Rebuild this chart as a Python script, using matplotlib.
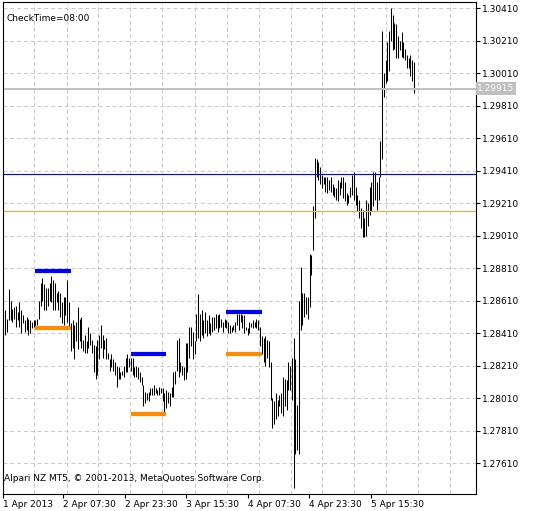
import matplotlib
matplotlib.use("Agg")
import matplotlib.pyplot as plt
import numpy as np

highs = [1.2855,1.2850,1.2868,1.2861,1.2856,1.2857,1.2858,1.2854,1.2860,1.2855,
1.2852,1.2849,1.2851,1.2850,1.2849,1.2848,1.2849,1.2849,1.2850,1.2861,
1.2872,1.2875,1.2871,1.2869,1.2869,1.2872,1.2876,1.2874,1.2872,1.2866,
1.2867,1.2866,1.2860,1.2863,1.2863,1.2874,1.2860,1.2847,1.2849,1.2846,
1.2848,1.2857,1.2850,1.2851,1.2837,1.2840,1.2836,1.2845,1.2841,1.2837,
1.2834,1.2833,1.2837,1.2840,1.2846,1.2840,1.2837,1.2838,1.2829,1.2825,
1.2828,1.2825,1.2823,1.2821,1.2820,1.2817,1.2818,1.2821,1.2826,1.2828,
1.2826,1.2826,1.2826,1.2820,1.2821,1.2820,1.2817,1.2814,1.2809,1.2805,
1.2804,1.2805,1.2807,1.2807,1.2809,1.2807,1.2806,1.2808,1.2807,1.2807,
1.2804,1.2806,1.2805,1.2804,1.2808,1.2817,1.2818,1.2837,1.2838,1.2823,
1.2821,1.2820,1.2835,1.2835,1.2845,1.2845,1.2842,1.2836,1.2853,1.2865,
1.2853,1.2855,1.2849,1.2854,1.2849,1.2852,1.2847,1.2851,1.2851,1.2853,
1.2852,1.2853,1.2850,1.2848,1.2850,1.2849,1.2848,1.2846,1.2845,1.2846,
1.2848,1.2853,1.2853,1.2853,1.2852,1.2852,1.2845,1.2844,1.2848,1.2847,
1.2849,1.2848,1.2850,1.2849,1.2845,1.2839,1.2838,1.2839,1.2837,1.2836,
1.2823,1.2801,1.2799,1.2804,1.2800,1.2803,1.2804,1.2814,1.2813,1.2812,
1.2823,1.2821,1.2826,1.2838,1.2825,1.2797,1.2861,1.2882,1.2866,1.2866,
1.2863,1.2863,1.2890,1.2889,1.2919,1.2949,1.2948,1.2946,1.2943,1.2938,
1.2937,1.2937,1.2937,1.2935,1.2937,1.2933,1.2931,1.2930,1.2935,1.2934,
1.2937,1.2937,1.2934,1.2927,1.2926,1.2931,1.2938,1.2940,1.2931,1.2926,
1.2923,1.2918,1.2917,1.2912,1.2923,1.2921,1.2931,1.2934,1.2940,1.2940,
1.2934,1.2937,1.2959,1.3027,1.3001,1.3009,1.3020,1.3027,1.3041,1.3037,
1.3032,1.3031,1.3024,1.3021,1.3026,1.3020,1.3016,1.3012,1.3010,1.3012,
1.3009,1.3008]
lows = [1.2840,1.2842,1.2849,1.2849,1.2848,1.2850,1.2845,1.2849,1.2845,1.2841,
1.2847,1.2842,1.2843,1.2840,1.2841,1.2844,1.2845,1.2844,1.2846,1.2850,
1.2858,1.2861,1.2855,1.2855,1.2858,1.2861,1.2860,1.2855,1.2855,1.2860,
1.2855,1.2851,1.2847,1.2846,1.2852,1.2848,1.2844,1.2830,1.2832,1.2825,
1.2836,1.2831,1.2836,1.2832,1.2830,1.2829,1.2829,1.2832,1.2834,1.2829,
1.2817,1.2813,1.2815,1.2825,1.2832,1.2826,1.2831,1.2825,1.2825,1.2818,
1.2820,1.2818,1.2815,1.2808,1.2813,1.2813,1.2815,1.2814,1.2817,1.2817,
1.2820,1.2818,1.2815,1.2814,1.2814,1.2813,1.2811,1.2809,1.2796,1.2798,
1.2800,1.2799,1.2803,1.2803,1.2803,1.2804,1.2803,1.2803,1.2804,1.2799,
1.2791,1.2795,1.2798,1.2796,1.2802,1.2802,1.2810,1.2818,1.2814,1.2817,
1.2815,1.2812,1.2813,1.2817,1.2826,1.2833,1.2825,1.2828,1.2836,1.2838,
1.2836,1.2840,1.2838,1.2841,1.2839,1.2841,1.2840,1.2842,1.2843,1.2844,
1.2842,1.2844,1.2845,1.2842,1.2845,1.2844,1.2841,1.2841,1.2842,1.2843,
1.2842,1.2846,1.2843,1.2848,1.2844,1.2841,1.2843,1.2840,1.2841,1.2845,
1.2844,1.2845,1.2844,1.2843,1.2833,1.2828,1.2823,1.2821,1.2826,1.2820,
1.2800,1.2783,1.2785,1.2788,1.2790,1.2796,1.2792,1.2790,1.2796,1.2794,
1.2806,1.2806,1.2800,1.2746,1.2767,1.2769,1.2767,1.2843,1.2846,1.2851,
1.2853,1.2850,1.2857,1.2877,1.2892,1.2912,1.2937,1.2935,1.2933,1.2930,
1.2933,1.2928,1.2927,1.2929,1.2928,1.2926,1.2925,1.2923,1.2922,1.2926,
1.2930,1.2924,1.2922,1.2920,1.2921,1.2925,1.2926,1.2923,1.2920,1.2916,
1.2912,1.2906,1.2900,1.2900,1.2901,1.2907,1.2914,1.2916,1.2919,1.2923,
1.2917,1.2923,1.2937,1.2948,1.2986,1.2995,1.2996,1.3002,1.3021,1.3015,
1.3016,1.3010,1.3010,1.3015,1.3011,1.3010,1.3009,1.3004,1.3004,1.2999,
1.2996,1.2989]

# daily high/low levels since CheckTime (start bar, end bar, high, low)
level_start = [17, 71, 125]
level_end = [37, 91, 145]
level_high = [1.2879, 1.2828, 1.2854]
level_low = [1.2844, 1.2791, 1.2828]

hline_blue = 1.2939
hline_orange = 1.2916
bid = 1.29915

yticks = [1.27610,1.27810,1.28010,1.28210,1.28410,1.28610,1.28810,1.29010,
          1.29210,1.29410,1.29610,1.29810,1.30010,1.30210,1.30410]
xtick_pos = [-1.3, 32.4, 67.4, 102.1, 137.1, 171.9, 206.6]
xtick_labels = ["1 Apr 2013","2 Apr 07:30","2 Apr 23:30","3 Apr 15:30",
                "4 Apr 07:30","4 Apr 23:30","5 Apr 15:30"]
vgrid_pos = [16.4,35,52.5,70.6,88.7,107.3,125.4,143.5,161.6,179.1,197.2,215.3,233.3,251.4]

fig = plt.figure(figsize=(5.45, 5.11), dpi=100)
ax = fig.add_axes([3/545, 17/511, 473/545, 492/511])
idx = np.arange(len(highs))
ax.vlines(idx, lows, highs, color='black', linewidth=0.75)

for s, e, h, l in zip(level_start, level_end, level_high, level_low):
    ax.plot([s, e], [h, h], color='#0000ff', linewidth=3, solid_capstyle='butt')
    ax.plot([s, e], [l, l], color='#ff8c00', linewidth=3, solid_capstyle='butt')

ax.axhline(hline_blue, color='#0000ff', linewidth=0.8)
ax.axhline(hline_orange, color='#ffa040', linewidth=0.8)
ax.axhline(bid + 0.00006, color='#c0c0c0', linewidth=0.7)
ax.axhline(bid - 0.00006, color='#c0c0c0', linewidth=0.7)

for y in yticks:
    ax.axhline(y, color='#c8c8c8', linewidth=0.7, linestyle=(0, (4, 3)), zorder=0)
for x in vgrid_pos:
    ax.axvline(x, color='#c8c8c8', linewidth=0.7, linestyle=(0, (4, 3)), zorder=0)

ax.set_xlim(-1.13, 266.1)
ax.set_ylim(1.27421, 1.30447)
ax.yaxis.tick_right()
ax.set_yticks(yticks)
ax.set_yticklabels([f"{v:.5f}" for v in yticks], fontsize=6.5)
ax.set_xticks(xtick_pos)
ax.set_xticklabels(xtick_labels, fontsize=6.5, ha='left')
ax.tick_params(axis='both', length=3, width=0.8, pad=1.5)
for sp in ax.spines.values():
    sp.set_linewidth(0.8)

ax.text(1.003, bid, f"{bid:.5f}", transform=ax.get_yaxis_transform(), fontsize=6.5,
        color='white', va='center', ha='left',
        bbox=dict(boxstyle='square,pad=0.2', fc='#c0c0c0', ec='none'))
ax.text(0.008, 0.976, "CheckTime=08:00", transform=ax.transAxes, fontsize=6.5, va='top')
ax.text(0.003, 0.022, "Alpari NZ MT5, © 2001-2013, MetaQuotes Software Corp.",
        transform=ax.transAxes, fontsize=6.5, va='bottom')

fig.savefig("out.png", dpi=100)
